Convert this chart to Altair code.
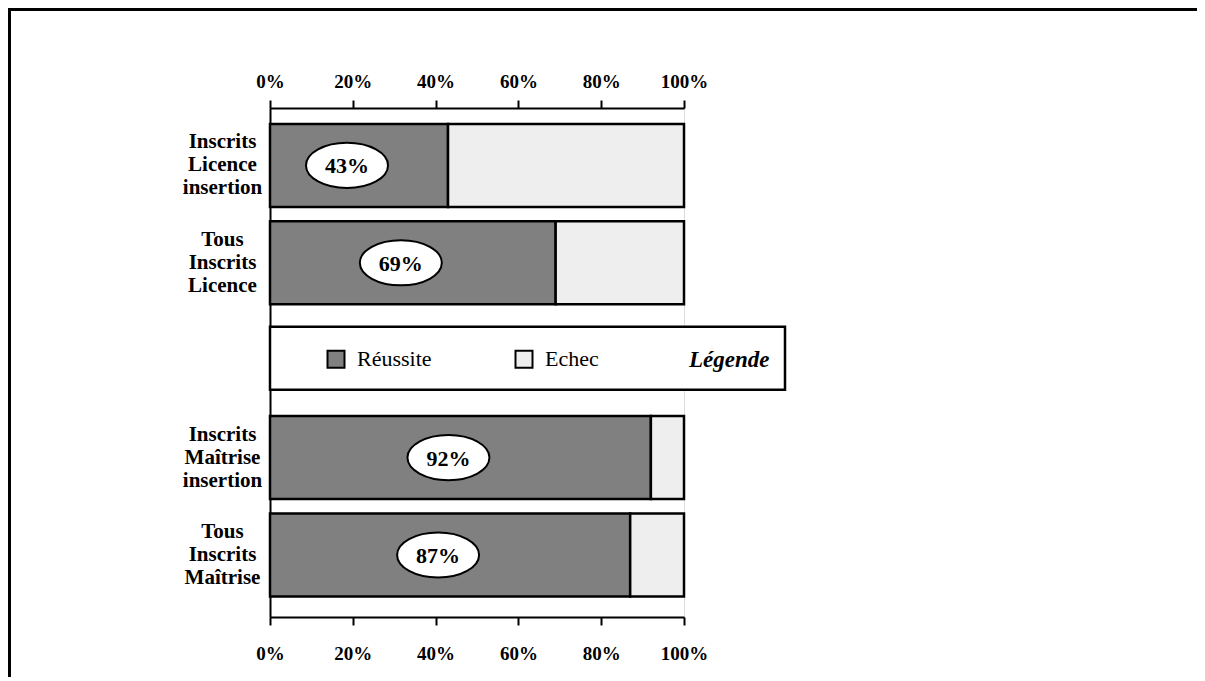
import altair as alt
import pandas as pd

# ---- data ----
categories = ["Inscrits Licence insertion", "Tous Inscrits Licence",
              "Inscrits Maîtrise insertion", "Tous Inscrits Maîtrise"]
legend_slot = "Légende"
y_domain = ["Inscrits Licence insertion", "Tous Inscrits Licence", legend_slot,
            "Inscrits Maîtrise insertion", "Tous Inscrits Maîtrise"]
reussite = [43, 69, 92, 87]
echec = [57, 31, 8, 13]
series = ["Réussite", "Echec"]
series_colors = ["#808080", "#eeeeee"]
tick_values = [0, 20, 40, 60, 80, 100]

rows = []
for c, r, e in zip(categories, reussite, echec):
    rows.append({"cat": c, "serie": series[0], "value": r, "ord": 0})
    rows.append({"cat": c, "serie": series[1], "value": e, "ord": 1})
bars_df = pd.DataFrame(rows)
labels_df = pd.DataFrame({"cat": categories, "value": reussite})

FONT = "Liberation Serif"

# layout (pixels)
PAD_L, PAD_T, W, H = 262, 100, 414, 509
PAD_R, PAD_B = 513, 60

x_scale = alt.Scale(domain=[0, 100], nice=False, zero=True)
y_scale = alt.Scale(domain=y_domain, paddingInner=0.148, paddingOuter=0.187,
                    align=0.437)

y_axis = alt.Axis(
    title=None, ticks=False, tickSize=0, domainColor="black", domainWidth=2,
    labelExpr="datum.label == 'Légende' ? '' : split(datum.label, ' ')",
    labelAlign="center", labelBaseline="middle", labelPadding=48,
    labelOffset=-23,
    labelFont=FONT, labelFontWeight="bold", labelFontSize=21,
    labelLineHeight=23, labelColor="black", grid=False,
)


def x_axis(orient, pad):
    return alt.Axis(
        orient=orient, title=None, values=tick_values,
        labelExpr="datum.value + '%'", grid=False, labelFlush=False,
        domainColor="black", domainWidth=2, tickColor="black", tickWidth=2,
        tickSize=8, labelFont=FONT, labelFontSize=19, labelFontWeight="bold",
        labelColor="black", labelPadding=pad,
    )


# frame lines (top and left) of the figure border - decoration only
one = alt.Data(values=[{"k": 1}])
frame_top = alt.Chart(one).mark_rule(stroke="black", strokeWidth=3).encode(
    x=alt.value(-PAD_L), x2=alt.value(W + PAD_R), y=alt.value(-PAD_T + 1.5),
)
frame_left = alt.Chart(one).mark_rule(stroke="black", strokeWidth=3).encode(
    x=alt.value(-PAD_L + 1.5), y=alt.value(-PAD_T), y2=alt.value(H + PAD_B),
)

bars = alt.Chart(bars_df).mark_bar(stroke="black", strokeWidth=2.5).encode(
    x=alt.X("value:Q", stack="zero", scale=x_scale, axis=x_axis("bottom", 19)),
    y=alt.Y("cat:N", scale=y_scale, axis=y_axis),
    color=alt.Color(
        "serie:N",
        scale=alt.Scale(domain=series, range=series_colors),
        legend=alt.Legend(
            orient="none", legendX=55, legendY=240, direction="horizontal",
            title="Légende", titleOrient="right", titleFont=FONT,
            titleFontStyle="italic", titleFontWeight="bold", titleFontSize=23,
            titleColor="black", titlePadding=90, titleBaseline="middle",
            symbolType="square", symbolSize=289, symbolStrokeColor="black",
            symbolStrokeWidth=2, symbolOpacity=1,
            labelFont=FONT, labelFontSize=22, labelColor="black",
            labelOffset=10, columnPadding=79,
        ),
    ),
    order=alt.Order("ord:Q"),
)

legend_box = alt.Chart(alt.Data(values=[{"cat": legend_slot}])).mark_bar(
    size=63, fill="white", stroke="black", strokeWidth=2.5, yOffset=-2
).encode(
    x=alt.value(0), x2=alt.value(515),
    y=alt.Y("cat:N", scale=y_scale, axis=y_axis),
)

ellipse_path = "M -1 0 A 1 0.55 0 1 1 1 0 A 1 0.55 0 1 1 -1 0 Z"

ellipses = alt.Chart(labels_df).transform_calculate(
    pos="datum.value / 2"
).mark_point(
    shape=ellipse_path, size=6724, filled=True, fill="white", fillOpacity=1,
    stroke="black", strokeWidth=2, opacity=1, xOffset=-12,
).encode(
    x=alt.X("pos:Q", scale=x_scale, axis=None),
    y=alt.Y("cat:N", scale=y_scale, axis=y_axis),
)

texts = alt.Chart(labels_df).transform_calculate(
    pos="datum.value / 2", lab="datum.value + '%'"
).mark_text(
    font=FONT, fontSize=22, fontWeight="bold", color="black",
    align="center", baseline="middle", xOffset=-12, dy=1,
).encode(
    x=alt.X("pos:Q", scale=x_scale, axis=x_axis("top", 9)),
    y=alt.Y("cat:N", scale=y_scale, axis=y_axis),
    text="lab:N",
)

chart = alt.layer(frame_top, frame_left, bars, legend_box, ellipses, texts).resolve_axis(
    x="independent"
).properties(
    width=W, height=H,
    autosize=alt.AutoSizeParams(type="none"),
    padding={"left": PAD_L, "top": PAD_T, "right": PAD_R, "bottom": PAD_B},
).configure_view(strokeWidth=0).configure(font=FONT)

chart.save("out.html", embed_options={"renderer": "svg", "actions": False})
